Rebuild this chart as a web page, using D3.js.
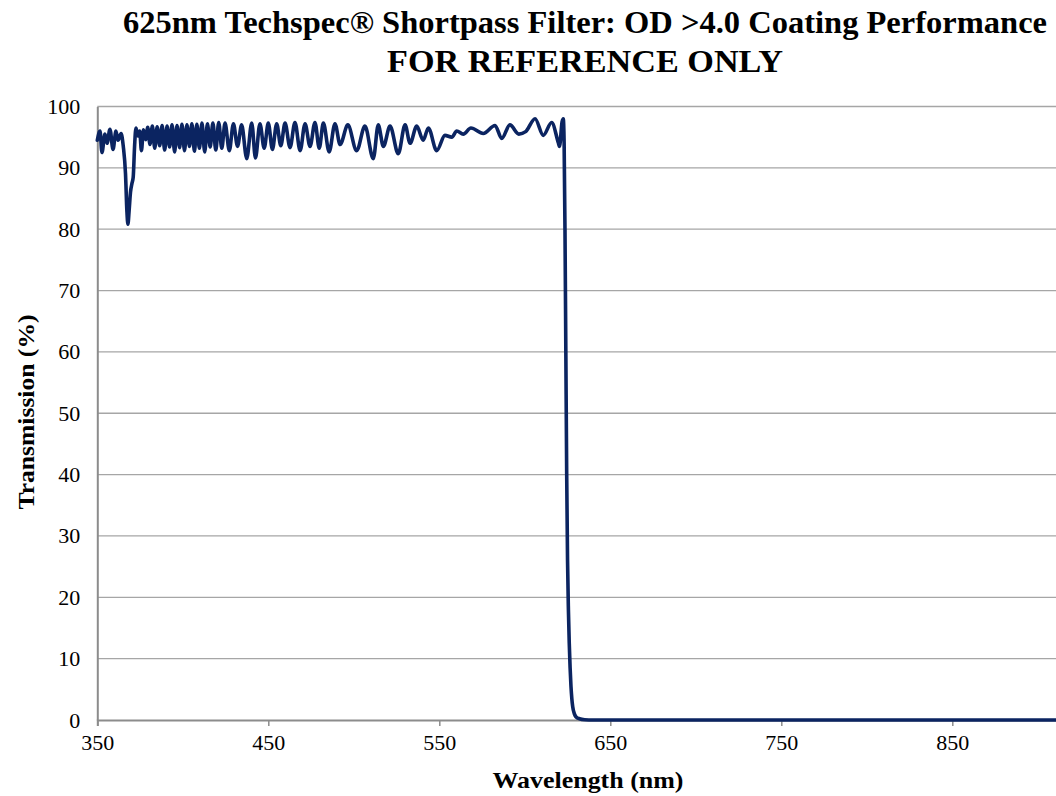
<!DOCTYPE html>
<html>
<head>
<meta charset="utf-8">
<script src="https://cdn.jsdelivr.net/npm/d3@7/dist/d3.min.js"></script>
<style>
  html, body { margin: 0; padding: 0; background: #fff; overflow: hidden; }
  svg { display: block; }
</style>
</head>
<body>
<svg id="chart" width="1056" height="796"></svg>
<script>
// ---- data ----
const titleLines = ["625nm Techspec\u00AE Shortpass Filter: OD >4.0 Coating Performance", "FOR REFERENCE ONLY"];
const xTickValues = [350, 450, 550, 650, 750, 850];
const yTickValues = [0, 10, 20, 30, 40, 50, 60, 70, 80, 90, 100];
const xAxisTitle = "Wavelength (nm)";
const yAxisTitle = "Transmission (%)";

const wavelength = [
  350, 351.6, 352.7, 354.5, 355.7, 357.4, 359.2, 360.9, 362.1, 363.9,
  365.2, 366.5, 367.3, 367.9, 368.6, 369.4, 370.3, 371, 371.8, 372.6,
  373.8, 374.8, 375.8, 377, 378.3, 379.5, 380.8, 382.2, 383.6, 385,
  386.5, 387.9, 389.4, 390.8, 392.3, 393.7, 395.2, 396.6, 398.1, 399.5,
  401, 402.4, 403.9, 405.3, 406.8, 408.2, 409.7, 411.2, 412.8, 414.4,
  416, 417.6, 419.3, 421, 422.8, 424.7, 427.2, 429.6, 432, 434.4,
  437.4, 440.3, 442.5, 445.1, 447.6, 450, 452.4, 454.9, 457.3, 459.8,
  462.7, 465.6, 468.6, 471.5, 474.4, 477.3, 479.8, 482.2, 485.6, 489,
  492, 496.5, 501.7, 506.5, 511.4, 514.3, 517.3, 521.2, 526, 530,
  532.9, 536.8, 540.6, 543.6, 548.5, 553.3, 557.3, 560.2, 564, 568.5,
  575.7, 582.6, 586.5, 591.3, 596.5, 600.5, 606, 610.8, 615.7, 619.6,
  620.3, 621.8, 622.5, 623, 623.5, 624, 624.5, 625, 625.5, 626,
  626.5, 627, 627.5, 628, 629, 630, 632, 635, 640, 700,
  800, 950
];
const transmission = [
  94.5, 96, 92.5, 95.5, 94, 96.3, 93, 96, 94.5, 95.6,
  93.5, 89, 83, 80.8, 83, 86, 87.5, 88.5, 93.5, 96.5,
  95.2, 96, 92.8, 96.2, 94.6, 96.6, 93.8, 96.8, 93.2, 96.7,
  93.6, 96.9, 92.9, 96.8, 93.4, 97, 92.6, 96.9, 93.3, 97.1,
  92.8, 97, 93.5, 97.2, 92.7, 97.1, 93.2, 97.3, 92.6, 97.2,
  93.4, 97.3, 92.9, 97.4, 93.2, 97.3, 92.8, 97.2, 93.5, 97,
  91.5, 97.3, 91.6, 97.2, 93.2, 97.3, 93, 97.2, 93.6, 97.3,
  93.3, 97.4, 92.8, 97.2, 93.5, 97.4, 93.2, 97.3, 92.6, 97.2,
  93.8, 97, 92.8, 96.8, 91.5, 97, 93.5, 96.8, 92.3, 97,
  94, 96.8, 94.5, 96.5, 92.8, 95.3, 95, 96, 95.5, 96.5,
  95.6, 96.9, 94.8, 97, 95.5, 95.9, 98, 95.3, 97.4, 94.1,
  93.5, 97.5, 98, 94, 80, 60, 40, 26, 18, 12.5,
  8.5, 5.5, 3.5, 2.2, 1, 0.5, 0.2, 0.05, 0, 0,
  0, 0
];

// ---- layout ----
const svg = d3.select("#chart");
const x = d3.scaleLinear().domain([350, 950]).range([97.3, 97.3 + 6 * 171]);
const y = d3.scaleLinear().domain([0, 100]).range([720, 106.5]);
const serif = "'Liberation Serif', 'Times New Roman', serif";

svg.append("rect").attr("width", 1056).attr("height", 796).attr("fill", "#fff");

// gridlines
svg.append("g").selectAll("line")
  .data(yTickValues.filter(d => d > 0))
  .join("line")
  .attr("x1", x(350)).attr("x2", x(950))
  .attr("y1", d => y(d)).attr("y2", d => y(d))
  .attr("stroke", "#a6a6a6").attr("stroke-width", 1.3);

// y axis
const yAxis = svg.append("g").attr("transform", `translate(${x(350)},0)`)
  .call(d3.axisLeft(y).tickValues(yTickValues).tickSize(0).tickPadding(17).tickFormat(d3.format("d")));
yAxis.select(".domain").attr("stroke", "#8c8c8c").attr("stroke-width", 2);
yAxis.selectAll("text").attr("font-family", serif).attr("font-size", 22).attr("fill", "#000");

// x axis
const xAxis = svg.append("g").attr("transform", `translate(0,${y(0)})`)
  .call(d3.axisBottom(x).tickValues(xTickValues).tickSize(6).tickPadding(8).tickFormat(d3.format("d")));
xAxis.select(".domain").attr("stroke", "#8c8c8c").attr("stroke-width", 2);
xAxis.selectAll(".tick line").attr("stroke", "#8c8c8c").attr("stroke-width", 1.5);
xAxis.selectAll("text").attr("font-family", serif).attr("font-size", 22).attr("fill", "#000");

// line
const pts = wavelength.map((w, i) => [w, transmission[i]]);
const line = d3.line().x(d => x(d[0])).y(d => y(d[1])).curve(d3.curveMonotoneX);
svg.append("path").datum(pts)
  .attr("d", line)
  .attr("fill", "none")
  .attr("stroke", "#0b2461")
  .attr("stroke-width", 3.6)
  .attr("stroke-linejoin", "round")
  .attr("stroke-linecap", "round");

// titles
const titleWidths = [924, 396];
svg.append("g").selectAll("text")
  .data(titleLines)
  .join("text")
  .attr("x", 585).attr("y", (d, i) => 33 + i * 39)
  .attr("text-anchor", "middle")
  .attr("font-family", serif).attr("font-weight", "bold").attr("font-size", 32)
  .attr("textLength", (d, i) => titleWidths[i]).attr("lengthAdjust", "spacingAndGlyphs")
  .text(d => d);

svg.append("text")
  .attr("x", 588).attr("y", 788)
  .attr("text-anchor", "middle")
  .attr("font-family", serif).attr("font-weight", "bold").attr("font-size", 23)
  .attr("textLength", 191).attr("lengthAdjust", "spacingAndGlyphs")
  .text(xAxisTitle);

svg.append("text")
  .attr("transform", "translate(34,412) rotate(-90)")
  .attr("text-anchor", "middle")
  .attr("font-family", serif).attr("font-weight", "bold").attr("font-size", 23)
  .attr("textLength", 195).attr("lengthAdjust", "spacingAndGlyphs")
  .text(yAxisTitle);
</script>
</body>
</html>
